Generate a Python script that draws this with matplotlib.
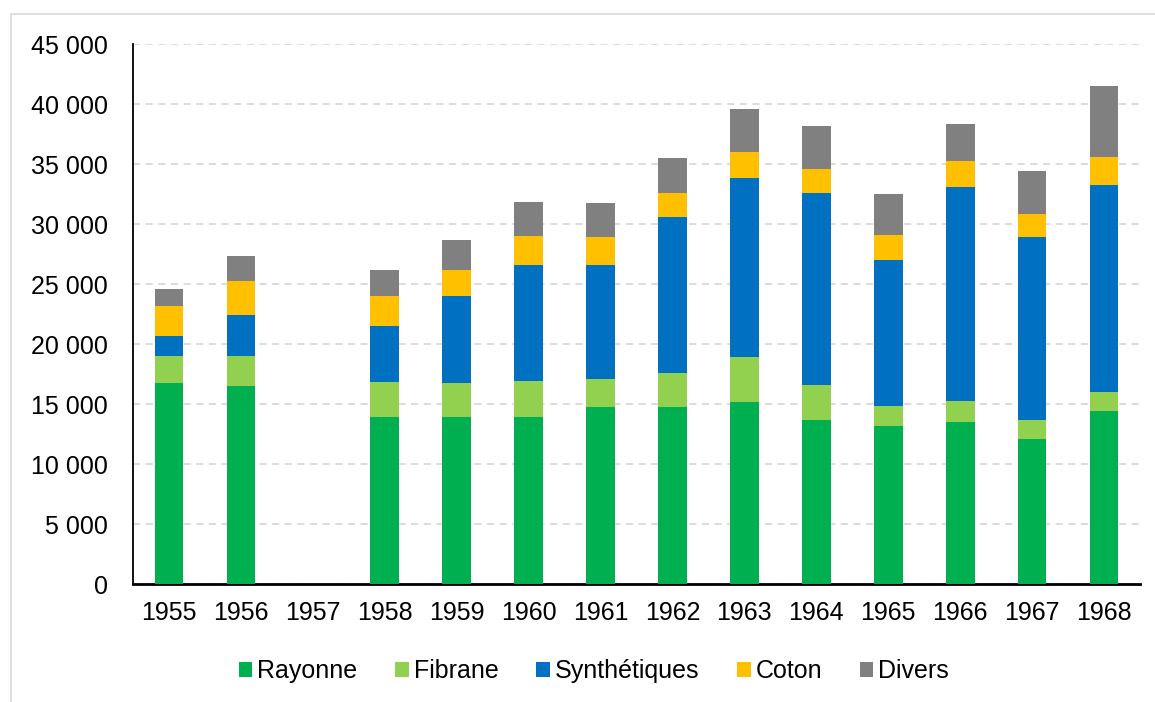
import numpy as np
import matplotlib
matplotlib.use("Agg")
import matplotlib.pyplot as plt
from matplotlib.ticker import FuncFormatter
from matplotlib.patches import Rectangle

plt.rcParams['font.family'] = ['Liberation Sans', 'DejaVu Sans']

years = ['1955', '1956', '1957', '1958', '1959', '1960', '1961',
         '1962', '1963', '1964', '1965', '1966', '1967', '1968']

rayonne = [16780, 16500, np.nan, 13920, 13920, 13950, 14780, 14730, 15170, 13690, 13130, 13460, 12110, 14450]
fibrane = [2220, 2500, np.nan, 2890, 2830, 2990, 2300, 2850, 3770, 2860, 1740, 1770, 1520, 1540]
synthetiques = [1630, 3410, np.nan, 4710, 7210, 9680, 9510, 12980, 14890, 16050, 12140, 17880, 15290, 17230]
coton = [2530, 2830, np.nan, 2500, 2190, 2360, 2330, 2000, 2140, 2000, 2050, 2110, 1880, 2360]
divers = [1440, 2100, np.nan, 2160, 2550, 2850, 2860, 2960, 3600, 3600, 3460, 3140, 3630, 5880]

series = [('Rayonne', rayonne, '#00B050'),
          ('Fibrane', fibrane, '#92D050'),
          ('Synthétiques', synthetiques, '#0070C0'),
          ('Coton', coton, '#FFC000'),
          ('Divers', divers, '#808080')]

fig = plt.figure(figsize=(11.55, 7.02), dpi=100)
ax = fig.add_axes([133 / 1155, 118 / 702, 1007 / 1155, 540 / 702])

x = np.arange(len(years))
bottom = np.zeros(len(years))
for name, vals, col in series:
    vals = np.array(vals, dtype=float)
    ax.bar(x, vals, bottom=bottom, width=0.4, color=col, label=name, zorder=3)
    bottom = bottom + vals

ax.set_xlim(-0.5, len(years) - 0.5)
ax.set_ylim(0, 45000)
ax.set_yticks(np.arange(0, 45001, 5000))
ax.yaxis.set_major_formatter(FuncFormatter(lambda v, p: f"{int(v):,}".replace(",", " ")))
ax.set_xticks(x)
ax.set_xticklabels(years)
ax.tick_params(axis='both', length=0, labelsize=18)
ax.tick_params(axis='y', pad=18)
ax.tick_params(axis='x', pad=12)

ax.grid(axis='y', color='#d9d9d9', linestyle=(0, (4, 3)), linewidth=1.3, zorder=0)
for s in ['top', 'right']:
    ax.spines[s].set_visible(False)
ax.spines['left'].set_linewidth(1.3)
ax.spines['bottom'].set_linewidth(2)

ax.legend(loc='center', bbox_to_anchor=(594 / 1155, 31 / 702), bbox_transform=fig.transFigure,
          ncol=5, frameon=False, fontsize=18, handlelength=0.55, handleheight=0.55,
          handletextpad=0.2, columnspacing=1.5)

fig.patches.append(Rectangle((11 / 1155, -0.01), 1.0, 1 - 14 / 702 + 0.01,
                             transform=fig.transFigure, fill=False,
                             edgecolor='#d9d9d9', linewidth=1.2))

fig.savefig('out.png', dpi=100)
